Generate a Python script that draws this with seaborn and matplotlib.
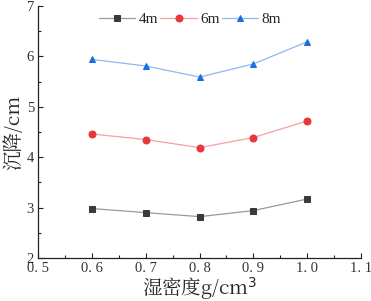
import numpy as np
import pandas as pd
import matplotlib
matplotlib.use("Agg")
import matplotlib.pyplot as plt
import seaborn as sns
from matplotlib.ticker import MultipleLocator

# data
density = [0.6, 0.7, 0.8, 0.9, 1.0]
s_4m = [2.98, 2.90, 2.82, 2.94, 3.17]
s_6m = [4.46, 4.35, 4.19, 4.39, 4.72]
s_8m = [5.94, 5.81, 5.59, 5.85, 6.29]
series = ["4m", "6m", "8m"]

df = pd.DataFrame({
    "density": density * 3,
    "settle": s_4m + s_6m + s_8m,
    "depth": [s for s in series for _ in density],
})

sns.set_style("ticks")
plt.rcParams["font.family"] = ["Liberation Serif", "Noto Sans CJK SC"]

fig, ax = plt.subplots(figsize=(3.71, 3.01), dpi=100)
fig.subplots_adjust(left=0.103, right=0.973, top=0.98, bottom=0.143)

line_cols = {"4m": "#9a9a9a", "6m": "#f4a0a4", "8m": "#8fb8f0"}
mark_cols = {"4m": "#3a3a3a", "6m": "#e8363c", "8m": "#1a6fe0"}
markers = {"4m": "s", "6m": "o", "8m": "^"}

for s in series:
    sub = df[df["depth"] == s]
    sns.lineplot(data=sub, x="density", y="settle", ax=ax, color=line_cols[s],
                 lw=0.9, marker=markers[s], markersize=5,
                 markerfacecolor=mark_cols[s], markeredgecolor=mark_cols[s],
                 label=s)

ax.set_xlim(0.5, 1.1)
ax.set_ylim(2, 7)
ax.xaxis.set_major_locator(MultipleLocator(0.1))
ax.xaxis.set_minor_locator(MultipleLocator(0.05))
ax.yaxis.set_major_locator(MultipleLocator(1))
ax.yaxis.set_minor_locator(MultipleLocator(0.5))
ax.set_xticklabels([f"{v:.1f}".replace(".", ". ") for v in ax.get_xticks()])
ax.tick_params(direction="in", length=3.5, width=0.8, labelsize=10.5, colors="#222222", pad=3)
ax.tick_params(which="minor", direction="in", length=2, width=0.8, colors="#222222")
ax.tick_params(axis="x", labelcolor="#333333")
ax.tick_params(axis="y", labelcolor="#333333")

ax.set_xlabel("湿密度g/cm$^3$", fontsize=14, labelpad=0,
              family=["Noto Serif CJK SC", "Noto Sans CJK SC", "DejaVu Sans"])
ax.set_ylabel("沉降/cm", fontsize=14, labelpad=2,
              family=["Noto Serif CJK SC", "Noto Sans CJK SC", "DejaVu Sans"])

sns.despine(ax=ax)
for sp in ["left", "bottom"]:
    ax.spines[sp].set_linewidth(0.9)
    ax.spines[sp].set_color("#222222")

ax.legend(loc="upper center", bbox_to_anchor=(0.47, 1.03), ncol=3, frameon=False,
          fontsize=11, handlelength=2.4, columnspacing=0.15, handletextpad=0.2)

fig.savefig("out.png", dpi=100)
